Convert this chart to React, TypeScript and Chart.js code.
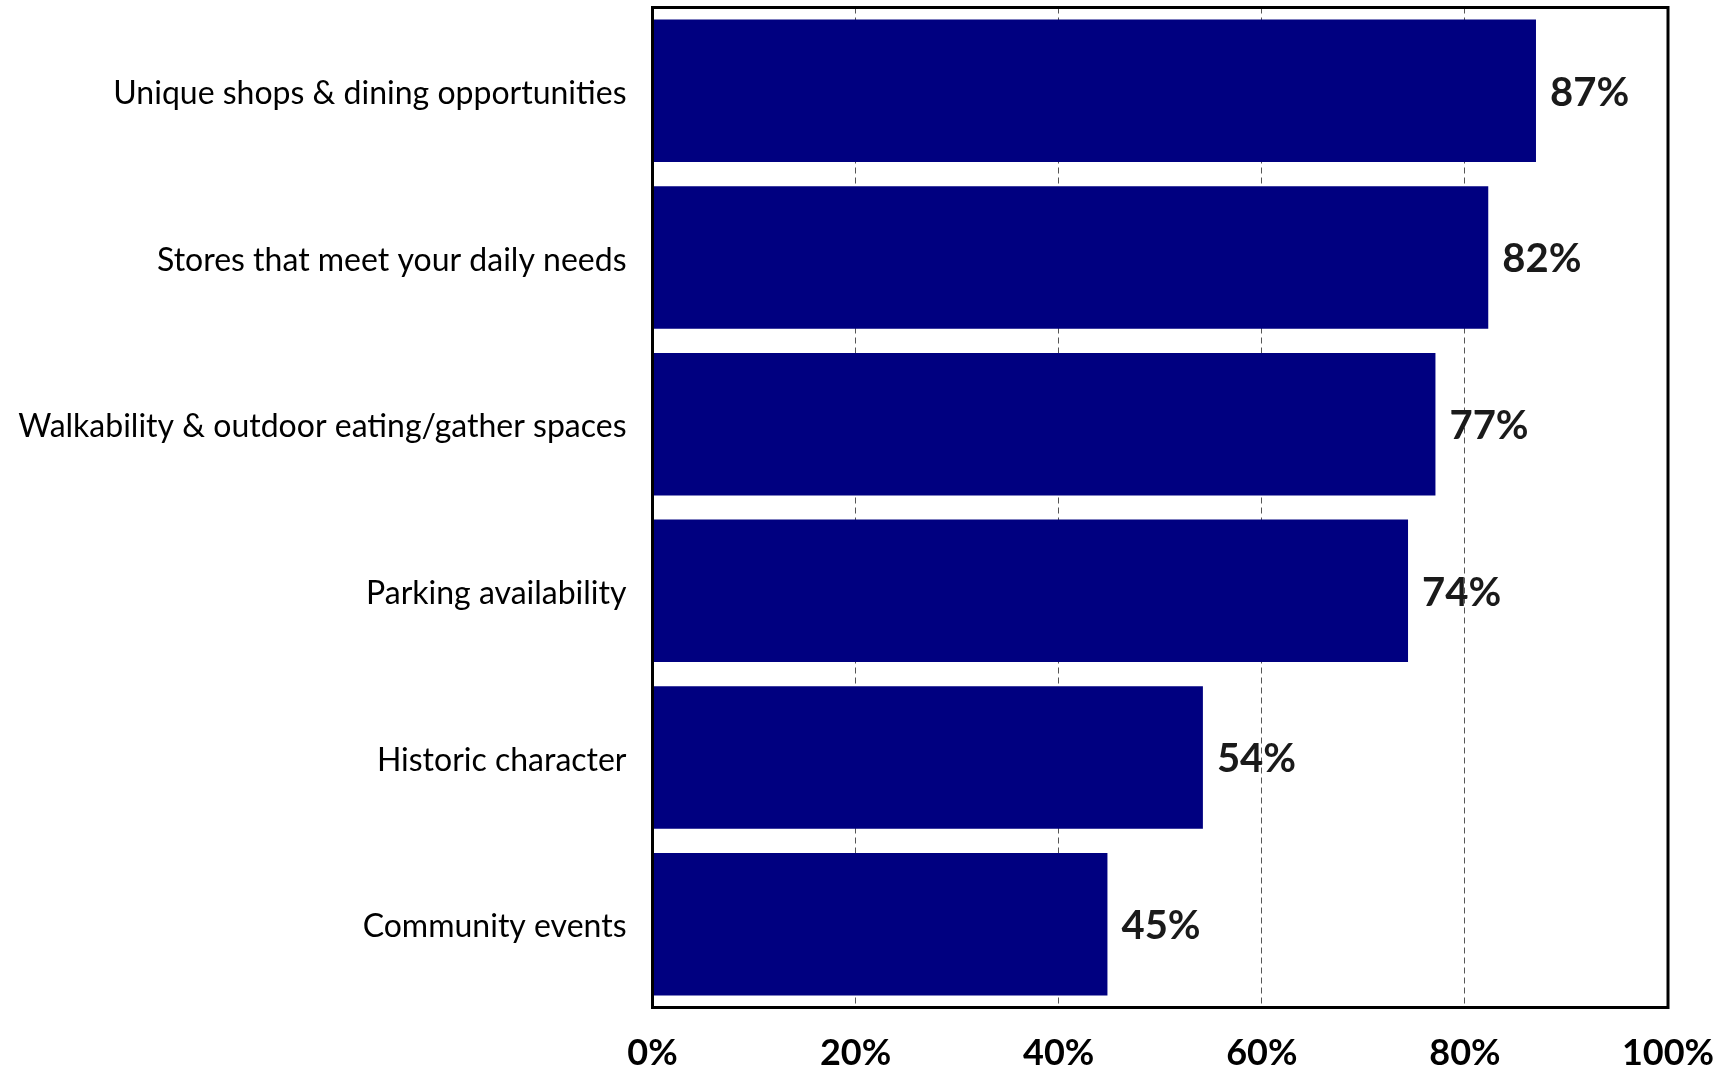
import React, { useEffect, useRef } from "react";
import { Chart, registerables } from "chart.js";

Chart.register(...registerables);

const categories = [
  "Unique shops & dining opportunities",
  "Stores that meet your daily needs",
  "Walkability & outdoor eating/gather spaces",
  "Parking availability",
  "Historic character",
  "Community events",
];
const values = [87, 82.3, 77.1, 74.4, 54.2, 44.8];
const xTicks = [0, 20, 40, 60, 80, 100];

const FONT = "Lato, 'Open Sans', sans-serif";

const framePlugin = {
  id: "frame",
  afterDatasetsDraw(chart: any) {
    const { ctx, chartArea } = chart;
    ctx.save();
    ctx.strokeStyle = "#000";
    ctx.lineWidth = 3;
    ctx.strokeRect(chartArea.left, chartArea.top, chartArea.right - chartArea.left, chartArea.bottom - chartArea.top);
    ctx.restore();
  },
};

const labelPlugin = {
  id: "valueLabels",
  afterDatasetsDraw(chart: any) {
    const { ctx } = chart;
    const meta = chart.getDatasetMeta(0);
    ctx.save();
    ctx.font = `bold 40px ${FONT}`;
    ctx.fillStyle = "#1a1a1a";
    ctx.textAlign = "left";
    ctx.textBaseline = "middle";
    meta.data.forEach((bar: any, i: number) => {
      ctx.fillText(`${Math.round(values[i])}%`, bar.x + 14, bar.y + 2);
    });
    ctx.restore();
  },
};

export default function App() {
  const ref = useRef<HTMLCanvasElement>(null);
  useEffect(() => {
    if (!ref.current) return;
    const chart = new Chart(ref.current, {
      type: "bar",
      data: {
        labels: categories,
        datasets: [
          {
            data: values,
            backgroundColor: "#000080",
            borderWidth: 0,
            barPercentage: 0.855,
            categoryPercentage: 1,
          },
        ],
      },
      options: {
        indexAxis: "y",
        responsive: false,
        animation: false,
        layout: { padding: { left: 0, right: 63, top: 7.5, bottom: 0 } },
        plugins: { legend: { display: false }, tooltip: { enabled: false } },
        scales: {
          x: {
            min: 0,
            max: 100,
            afterBuildTicks(scale: any) {
              scale.ticks = xTicks.map((v) => ({ value: v }));
            },
            afterFit(scale: any) {
              scale.height = 62.5;
              scale.paddingLeft = 0;
              scale.paddingRight = 0;
            },
            grid: {
              display: true,
              color: "#555",
              lineWidth: 1,
              drawTicks: false,
            },
            border: { display: false, dash: [6, 4] },
            ticks: {
              padding: 24,
              color: "#000",
              font: { family: FONT, size: 36, weight: "bold" },
              callback: (v: any) => `${v}%`,
              maxRotation: 0,
            },
          },
          y: {
            afterFit(scale: any) {
              scale.width = 652.5;
              scale.paddingTop = 0;
              scale.paddingBottom = 0;
            },
            grid: { display: false, drawTicks: false },
            border: { display: false },
            ticks: {
              padding: 26,
              labelOffset: 3,
              color: "#000",
              font: { family: FONT, size: 32 },
            },
          },
        },
      },
      plugins: [framePlugin, labelPlugin],
    } as any);
    return () => chart.destroy();
  }, []);
  return (
    <div style={{ position: "absolute", left: 0, top: 0, width: 1731, height: 1070, background: "#fff" }}>
      <canvas ref={ref} width={1731} height={1070} />
    </div>
  );
}
